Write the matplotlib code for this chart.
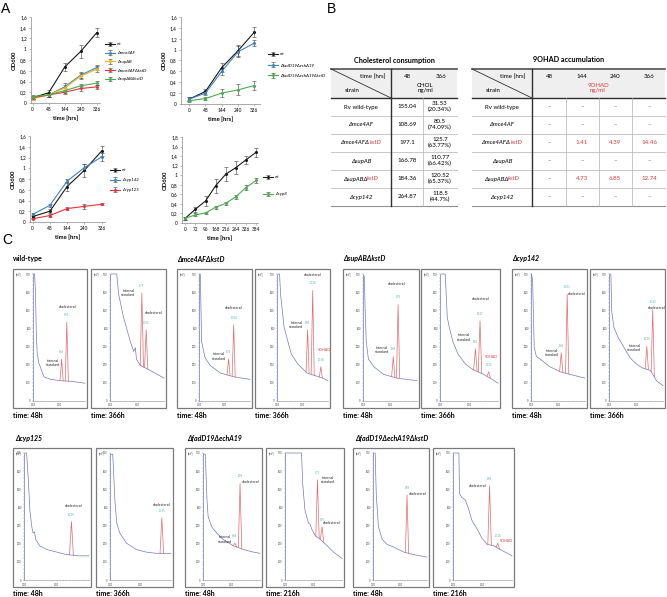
import numpy as np
import matplotlib
matplotlib.use('Agg')
import matplotlib.pyplot as plt
from matplotlib.patches import Rectangle
from matplotlib.ticker import FuncFormatter, AutoMinorLocator

W, H = 667, 597
plt.rcParams['font.family'] = ['Lato', 'DejaVu Sans']

# ---- panel A: growth curves (OD600) ----
t_a = ['0', '48', '144', '240', '336']
wt = [0.10, 0.19, 0.67, 0.96, 1.31]
wt_err = [0.03, 0.05, 0.08, 0.12, 0.09]
mce4AF = [0.10, 0.15, 0.30, 0.52, 0.66]
mce4AF_err = [0.03, 0.04, 0.07, 0.06, 0.05]
supAB = [0.08, 0.15, 0.28, 0.50, 0.63]
supAB_err = [0.03, 0.04, 0.06, 0.06, 0.05]
mce4AF_kstD = [0.10, 0.15, 0.20, 0.27, 0.30]
mce4AF_kstD_err = [0.02, 0.03, 0.04, 0.04, 0.04]
supAB_kstD = [0.12, 0.15, 0.23, 0.32, 0.37]
supAB_kstD_err = [0.03, 0.03, 0.04, 0.04, 0.04]

wt2 = [0.09, 0.23, 0.67, 0.98, 1.32]
wt2_err = [0.03, 0.04, 0.08, 0.1, 0.09]
fadD19 = [0.09, 0.20, 0.60, 0.96, 1.12]
fadD19_err = [0.03, 0.04, 0.06, 0.1, 0.05]
fadD19_kstD = [0.06, 0.10, 0.20, 0.26, 0.34]
fadD19_kstD_err = [0.02, 0.03, 0.07, 0.1, 0.09]

wt3 = [0.10, 0.20, 0.66, 0.96, 1.32]
wt3_err = [0.03, 0.04, 0.08, 0.12, 0.1]
cyp142 = [0.14, 0.31, 0.76, 1.01, 1.21]
cyp142_err = [0.02, 0.03, 0.04, 0.06, 0.08]
cyp125 = [0.06, 0.12, 0.25, 0.29, 0.33]
cyp125_err = [0.01, 0.02, 0.02, 0.04, 0.02]

t_d = ['0', '72', '96', '168', '216', '264', '336', '384']
wt4 = [0.10, 0.29, 0.46, 0.78, 1.02, 1.16, 1.32, 1.48]
wt4_err = [0.03, 0.05, 0.1, 0.15, 0.15, 0.13, 0.08, 0.1]
cyp8 = [0.10, 0.17, 0.21, 0.33, 0.41, 0.55, 0.74, 0.89]
cyp8_err = [0.03, 0.03, 0.02, 0.03, 0.03, 0.04, 0.05, 0.06]

# ---- panel B: tables ----
chol_strains = ['Rv wild-type', 'Δmce4AF', 'Δmce4AFΔkstD', 'ΔsupAB', 'ΔsupABΔkstD', 'Δcyp142']
chol_48 = ['155.04', '108.69', '197.1', '166.78', '184.36', '264.87']
chol_366 = ['31.53\n(20.34%)', '80.5\n(74.09%)', '125.7\n(63.77%)',
            '110.77\n(66.42%)', '120.52\n(65.37%)', '118.5\n(44.7%)']
ohad_times = ['48', '144', '240', '366']
ohad_vals = [['–', '–', '–', '–'],
             ['–', '–', '–', '–'],
             ['–', '1.41', '4.39', '14.46'],
             ['–', '–', '–', '–'],
             ['–', '4.73', '6.85', '12.74'],
             ['–', '–', '–', '–']]

# ---- panel C: chromatogram traces (fraction of axis range) ----
chrom_x = [
    [0.0, 0.03, 0.045, 0.065, 0.08, 0.11, 0.14, 0.21, 0.34, 0.53, 0.73, 1.0],
    [0.02, 0.125, 0.16, 0.25, 0.375, 0.44, 0.47, 0.49, 0.56, 0.75, 0.875, 1.0],
    [0.01, 0.025, 0.04, 0.05, 0.12, 0.22, 0.42, 0.69, 1.0],
    [0.02, 0.05, 0.07, 0.14, 0.28, 0.41, 0.59, 0.9, 1.0],
    [0.01, 0.025, 0.04, 0.06, 0.1, 0.2, 0.38, 0.63, 1.0],
    [0.02, 0.09, 0.125, 0.16, 0.22, 0.31, 0.44, 0.56, 0.75, 0.9, 1.0],
    [0.01, 0.03, 0.06, 0.1, 0.23, 0.35, 0.54, 0.72, 1.0],
    [0.02, 0.035, 0.05, 0.09, 0.17, 0.28, 0.39, 0.51, 0.62, 0.77, 0.88, 1.0],
    [0.015, 0.04, 0.07, 0.09, 0.12, 0.14, 0.16, 0.18, 0.24, 0.35, 0.5, 0.65, 0.86, 1.0],
    [0.02, 0.045, 0.08, 0.11, 0.16, 0.27, 0.43, 0.59, 0.76, 1.0],
    [0.01, 0.04, 0.07, 0.09, 0.15, 0.24, 0.35, 0.53, 0.71, 0.88, 1.0],
    [0.01, 0.29, 0.31, 0.35, 0.41, 0.44, 0.47, 0.53, 0.62, 0.74, 0.85, 1.0],
    [0.01, 0.04, 0.06, 0.1, 0.17, 0.26, 0.38, 0.57, 0.75, 1.0],
    [0.01, 0.1, 0.11, 0.15, 0.21, 0.27, 0.32, 0.41, 0.49, 0.58, 0.69, 0.8, 0.92, 1.0],
]
chrom_y = [
    [1.0, 1.0, 0.88, 0.52, 0.38, 0.30, 0.27, 0.19, 0.17, 0.16, 0.155, 0.14],
    [1.0, 1.0, 0.84, 0.66, 0.47, 0.39, 0.42, 0.33, 0.28, 0.24, 0.21, 0.18],
    [1.0, 1.0, 0.71, 0.47, 0.34, 0.28, 0.22, 0.19, 0.17],
    [1.0, 1.0, 0.84, 0.58, 0.37, 0.29, 0.22, 0.18, 0.16],
    [0.98, 0.98, 0.71, 0.47, 0.33, 0.27, 0.21, 0.18, 0.16],
    [1.0, 1.0, 0.66, 0.58, 0.47, 0.37, 0.29, 0.25, 0.21, 0.17, 0.14],
    [1.0, 0.95, 0.42, 0.35, 0.31, 0.27, 0.23, 0.21, 0.18],
    [1.0, 1.0, 0.71, 0.58, 0.50, 0.42, 0.34, 0.29, 0.26, 0.24, 0.16, 0.12],
    [1.0, 1.0, 0.76, 0.55, 0.42, 0.37, 0.38, 0.32, 0.27, 0.24, 0.22, 0.20, 0.19, 0.19],
    [0.99, 0.99, 0.63, 0.45, 0.37, 0.29, 0.24, 0.22, 0.21, 0.21],
    [0.99, 0.99, 0.63, 0.50, 0.42, 0.37, 0.32, 0.27, 0.24, 0.22, 0.21],
    [1.0, 1.0, 0.76, 0.55, 0.45, 0.44, 0.40, 0.35, 0.32, 0.27, 0.22, 0.17],
    [1.0, 1.0, 0.68, 0.42, 0.32, 0.28, 0.26, 0.22, 0.20, 0.18],
    [1.0, 1.0, 0.68, 0.65, 0.63, 0.55, 0.47, 0.40, 0.33, 0.28, 0.27, 0.24, 0.21, 0.19],
]
# peaks: (position, height, kind)
chrom_peaks = [
    [(0.55, 0.33, 'is'), (0.65, 0.62, 'chol')],
    [(0.59, 0.85, 'is'), (0.67, 0.56, 'chol')],
    [(0.58, 0.33, 'is'), (0.68, 0.60, 'chol')],
    [(0.60, 0.56, 'is'), (0.70, 0.87, 'chol'), (0.86, 0.27, 'ohad')],
    [(0.56, 0.35, 'is'), (0.65, 0.76, 'chol')],
    [(0.61, 0.41, 'is'), (0.69, 0.63, 'chol'), (0.84, 0.23, 'ohad')],
    [(0.56, 0.38, 'is'), (0.67, 0.84, 'chol')],
    [(0.70, 0.43, 'is'), (0.81, 0.72, 'chol')],
    [(0.73, 0.46, 'chol')],
    [(0.85, 0.49, 'chol')],
    [(0.56, 0.29, 'is'), (0.65, 0.76, 'chol')],
    [(0.57, 0.79, 'is'), (0.65, 0.42, 'chol')],
    [(0.63, 0.67, 'chol')],
    [(0.62, 0.74, 'chol'), (0.76, 0.29, 'ohad')],
]
# annotation text positions for each peak
chrom_notes = [
    [(0.39, 0.30), (0.67, 0.74)],
    [(0.34, 0.85), (0.81, 0.69)],
    [(0.39, 0.35), (0.68, 0.73)],
    [(0.38, 0.60), (0.70, 0.99), (0.93, 0.40)],
    [(0.35, 0.40), (0.63, 0.92)],
    [(0.41, 0.50), (0.70, 0.80), (0.88, 0.35)],
    [(0.38, 0.38), (0.84, 0.84)],
    [(0.47, 0.42), (0.88, 0.73)],
    [(0.76, 0.58)],
    [(0.85, 0.59)],
    [(0.38, 0.32), (0.84, 0.77)],
    [(0.76, 0.79), (0.82, 0.45)],
    [(0.83, 0.68)],
    [(0.41, 0.74), (0.90, 0.31)],
]
chrom_times = ['48h', '366h', '48h', '366h', '48h', '366h', '48h', '366h',
               '48h', '366h', '48h', '216h', '48h', '216h']
# boxes in pixels: (left, top, right, bottom, y-axis x)
chrom_boxes = [
    (13, 269, 87, 408, 33), (91, 269, 166, 408, 110),
    (177, 269, 252, 408, 199), (255, 269, 330, 408, 277),
    (343, 269, 419, 408, 363), (421, 269, 500, 408, 440),
    (512, 269, 587, 408, 531), (590, 269, 665, 408, 609),
    (13, 448, 91, 587, 24), (96, 448, 173, 587, 110),
    (185, 448, 262, 587, 203), (266, 448, 344, 587, 285),
    (353, 448, 429, 587, 373), (433, 448, 514, 587, 453),
]
group_titles = [('wild-type', 13, 259, False), ('Δmce4AFΔkstD', 177, 259, True),
                ('ΔsupABΔkstD', 343, 259, True), ('Δcyp142', 512, 259, True),
                ('Δcyp125', 15, 439, True), ('ΔfadD19ΔechA19', 187, 439, True),
                ('ΔfadD19ΔechA19ΔkstD', 355, 439, True)]

fig = plt.figure(figsize=(W / 100, H / 100), dpi=100)


def px_axes(x0, y0, x1, y1):
    return fig.add_axes([x0 / W, 1 - y1 / H, (x1 - x0) / W, (y1 - y0) / H])


ov = px_axes(0, 0, W, H)
ov.set_xlim(0, W)
ov.set_ylim(H, 0)
ov.axis('off')

comma = FuncFormatter(lambda v, p: f'{v:.1f}'.rstrip('0').rstrip('.').replace('.', ','))
BLACK, BLUE, YELLOW, RED, GREEN = '#1a1a1a', '#3d85c6', '#f1b712', '#e2363b', '#4cae4f'


def growth(box, labels, series, errs, names, colors, ymax, xlim, leg_xy, spacing):
    ax = px_axes(*box)
    x = np.arange(len(labels))
    for y, e, n, c in zip(series, errs, names, colors):
        ax.errorbar(x, y, yerr=e, color=c, ecolor='#505050', lw=0.8, elinewidth=0.45,
                    capsize=1.2, capthick=0.45, marker='o', ms=1.2, label=n)
    ax.set_xticks(x, labels)
    ax.set_xlim(*xlim)
    ax.set_ylim(0, ymax)
    ax.set_yticks(np.arange(0, ymax + 0.01, 0.2))
    ax.yaxis.set_major_formatter(comma)
    for s in ['top', 'right']:
        ax.spines[s].set_visible(False)
    for s in ['left', 'bottom']:
        ax.spines[s].set_color('#8a8a8a')
        ax.spines[s].set_linewidth(0.5)
    ax.tick_params(labelsize=3.4, length=1.5, width=0.4, color='#8a8a8a', pad=1.5)
    ax.set_xlabel('time [hrs]', fontsize=4.2, fontweight='bold', labelpad=2)
    ax.set_ylabel('OD600', fontsize=4.2, fontweight='bold', labelpad=2)
    ax.legend(loc='upper left', bbox_to_anchor=(leg_xy[0] / W, 1 - leg_xy[1] / H),
              bbox_transform=fig.transFigure, frameon=False,
              handlelength=2.2, labelspacing=spacing, borderpad=0, handletextpad=0.5,
              prop={'size': 3.2, 'style': 'italic'})
    return ax


growth((31, 17, 100, 103), t_a,
       [wt, mce4AF, supAB, mce4AF_kstD, supAB_kstD],
       [wt_err, mce4AF_err, supAB_err, mce4AF_kstD_err, supAB_kstD_err],
       ['wt', 'Δmce4AF', 'ΔsupAB', 'Δmce4AFΔkstD', 'ΔsupABΔkstD'],
       [BLACK, BLUE, YELLOW, RED, GREEN], 1.6, (-0.1, 4.2), (103, 40), 1.05)
growth((181, 17, 260, 104), t_a,
       [wt2, fadD19, fadD19_kstD], [wt2_err, fadD19_err, fadD19_kstD_err],
       ['wt', 'ΔfadD19ΔechA19', 'ΔfadD19ΔechA19ΔkstD'],
       [BLACK, BLUE, GREEN], 1.6, (-0.5, 4.35), (266, 50), 1.5)
growth((30, 136, 105, 222), t_a,
       [wt3, cyp142, cyp125], [wt3_err, cyp142_err, cyp125_err],
       ['wt', 'Δcyp142', 'Δcyp125'],
       [BLACK, BLUE, RED], 1.6, (-0.15, 4.2), (108, 166), 1.3)
growth((182, 137, 258, 223), t_d,
       [wt4, cyp8], [wt4_err, cyp8_err], ['wt', 'Δcyp8'],
       [BLACK, GREEN], 1.8, (-0.33, 7.2), (261, 173), 2.9)

# ---- panel letters ----
for s, x, y in [('A', 1, 9), ('B', 327, 9), ('C', 2, 240)]:
    ov.text(x, y, s, fontsize=10, va='center', ha='left', family='Liberation Sans')

renderer = fig.canvas.get_renderer()


def multi_text(x, y, parts, center=True, **kw):
    ts = [ov.text(0, y, s, color=c, va='center', ha='left', **kw) for s, c in parts]
    widths = [t.get_window_extent(renderer).width for t in ts]
    start = x - sum(widths) / 2 if center else x
    for t, w in zip(ts, widths):
        t.set_x(start)
        start += w


def strain_parts(name):
    if 'ΔkstD' in name:
        return [(name.replace('kstD', ''), 'black'), ('kstD', '#e2363b')]
    return [(name, 'black')]


# ---- panel B tables ----
HEAD_T, HEAD_B = 69, 98
ROW_H = 18
rows_y = [HEAD_B + ROW_H * i for i in range(len(chol_strains) + 1)]
TXT = 4.4


def table(x0, xs, x1, title):
    ov.add_patch(Rectangle((x0, HEAD_T), x1 - x0, HEAD_B - HEAD_T, color='#efefef', lw=0))
    ov.text((x0 + x1) / 2, 60, title, fontsize=5.2, fontweight='bold', ha='center', va='center')
    ov.plot([x0, x1], [HEAD_T, HEAD_T], color='#505050', lw=1.2)
    ov.plot([x0, x1], [HEAD_B, HEAD_B], color='#303030', lw=1.0)
    for y in rows_y[1:-1]:
        ov.plot([x0, x1], [y, y], color='#b0b0b0', lw=0.5)
    ov.plot([x0, x1], [rows_y[-1], rows_y[-1]], color='#909090', lw=0.8)
    ov.plot([xs, xs], [HEAD_T, rows_y[-1]], color='#303030', lw=1.0)
    ov.plot([x0, xs], [HEAD_T, HEAD_B], color='#303030', lw=0.6)
    ov.text(xs - 6, 77, 'time [hrs]', fontsize=TXT, ha='right', va='center')
    ov.text(x0 + 14, 91, 'strain', fontsize=TXT, ha='left', va='center')
    for i, name in enumerate(chol_strains):
        yc = (rows_y[i] + rows_y[i + 1]) / 2
        style = 'normal' if name.startswith('Rv') else 'italic'
        multi_text((x0 + xs) / 2, yc, strain_parts(name), fontsize=TXT, fontstyle=style)


# cholesterol consumption
table(331, 391, 457, 'Cholesterol consumption')
ov.plot([423, 423], [HEAD_B, rows_y[-1]], color='#b0b0b0', lw=0.5)
ov.text(407, 77, '48', fontsize=TXT, ha='center', va='center')
ov.text(441, 77, '366', fontsize=TXT, ha='center', va='center')
ov.text(425, 88, 'CHOL\nng/ml', fontsize=TXT, ha='center', va='center', linespacing=1.2)
for i in range(len(chol_strains)):
    yc = (rows_y[i] + rows_y[i + 1]) / 2
    ov.text(407, yc, chol_48[i], fontsize=TXT, ha='center', va='center')
    ov.text(440, yc, chol_366[i], fontsize=TXT, ha='center', va='center', linespacing=1.15)

# 9OHAD accumulation
table(472, 532, 665, '9OHAD accumulation')
col_x = [549, 582, 615, 649]
for xs in [566, 599, 632]:
    ov.plot([xs, xs], [HEAD_B, rows_y[-1]], color='#b0b0b0', lw=0.5)
for tlab, cx in zip(ohad_times, col_x):
    ov.text(cx, 77, tlab, fontsize=TXT, ha='center', va='center')
ov.text(598, 88, '9OHAD\nng/ml', fontsize=TXT, ha='center', va='center', color='#e2363b',
        linespacing=1.2)
for i, row in enumerate(ohad_vals):
    yc = (rows_y[i] + rows_y[i + 1]) / 2
    for v, cx in zip(row, col_x):
        ov.text(cx, yc, v, fontsize=TXT, ha='center', va='center',
                color='#505050' if v == '–' else '#e2363b')

# ---- panel C chromatograms ----
for name, x, y, ital in group_titles:
    ov.text(x, y, name, fontsize=5, fontweight='bold', fontstyle='italic' if ital else 'normal',
            ha='left', va='center')

note_text = {'chol': 'cholesterol', 'is': 'internal\nstandard', 'ohad': '9OHAD'}
for i, (bx0, by0, bx1, by1, axx) in enumerate(chrom_boxes):
    ov.add_patch(Rectangle((bx0, by0), bx1 - bx0, by1 - by0, fill=False,
                           ec='#7a7a7a', lw=0.9))
    ov.text(bx0, by1 + 7, 'time: ' + chrom_times[i], fontsize=5, fontweight='bold',
            ha='left', va='center')
    ov.text(bx0 + 3, by0 + 5, '[mV]', fontsize=1.8, ha='left', va='center', color='#404040')
    ax = px_axes(axx, by0 + 5, bx1 - 2, by1 - 7)
    ax.patch.set_alpha(0)
    tx, ty = chrom_x[i], chrom_y[i]
    ax.plot(tx, ty, color='#7278c4', lw=0.5, clip_on=False)
    for (p, h, kind), (nx, ny) in zip(chrom_peaks[i], chrom_notes[i]):
        xs_ = [p - 0.03, p, p + 0.03]
        ys_ = [np.interp(p - 0.03, tx, ty), h, np.interp(p + 0.03, tx, ty)]
        ax.plot(xs_, ys_, color='#e46a6a', lw=0.5)
        ax.text(p, h + 0.04, f'{8 + p * 3:.2f}', fontsize=1.8, color='#3fb3a8',
                ha='center', va='bottom')
        ax.text(nx, ny, note_text[kind], fontsize=2.6, ha='center', va='center',
                color='#e2363b' if kind == 'ohad' else '#222222', linespacing=1.1)
    ax.set_xlim(0, 1)
    ax.set_ylim(0, 1)
    ax.set_yticks(np.linspace(0, 1, 8), ['0', '100', '200', '300', '400', '500', '600', '700'])
    ax.set_xticks([0.0, 0.5], ['0.00', '5.00'])
    ax.yaxis.set_minor_locator(AutoMinorLocator(5))
    ax.xaxis.set_minor_locator(AutoMinorLocator(10))
    for s in ['top', 'right']:
        ax.spines[s].set_visible(False)
    ax.spines['left'].set_color('#6b72c0')
    ax.spines['left'].set_linewidth(0.5)
    ax.spines['bottom'].set_color('#9a9a9a')
    ax.spines['bottom'].set_linewidth(0.4)
    ax.tick_params(which='both', labelsize=1.8, length=1, width=0.3, pad=0.8,
                   color='#8088c8', labelcolor='#404040')

fig.savefig('out.png', dpi=100)
